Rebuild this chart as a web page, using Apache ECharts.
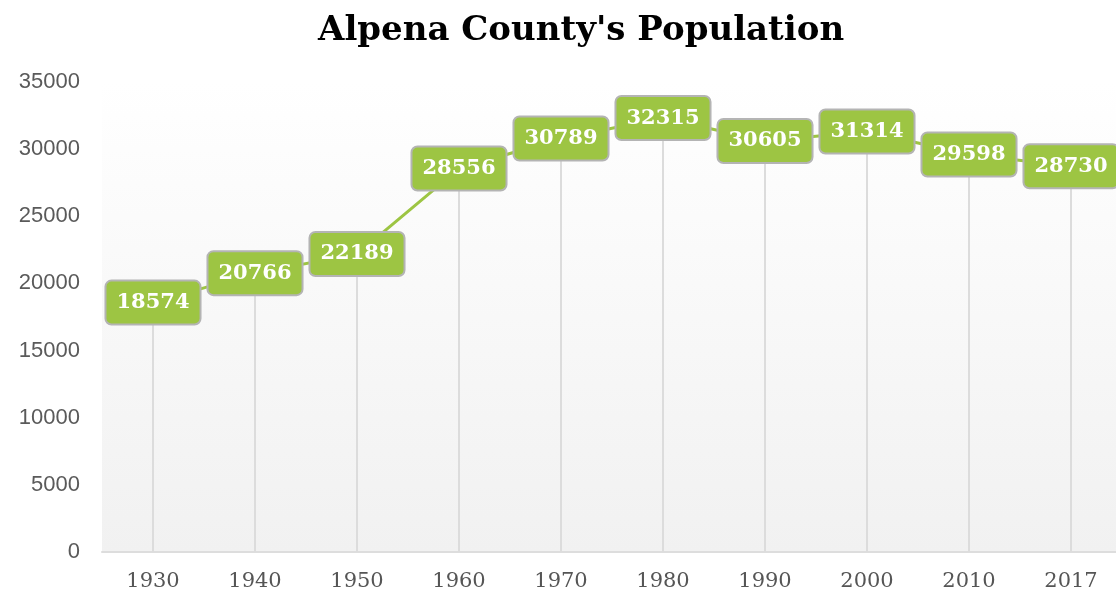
<!DOCTYPE html>
<html>
<head>
<meta charset="utf-8">
<title>Alpena County's Population</title>
<script src="https://cdn.jsdelivr.net/npm/echarts@6/dist/echarts.min.js"></script>
<style>
  html, body { margin: 0; padding: 0; background: #fff; overflow: hidden; }
  #chart { width: 1122px; height: 593px; }
</style>
</head>
<body>
<div id="chart"></div>
<script>
// 数据
const years = ['1930', '1940', '1950', '1960', '1970', '1980', '1990', '2000', '2010', '2017']
const population = [18574, 20766, 22189, 28556, 30789, 32315, 30605, 31314, 29598, 28730]

const myChart = echarts.init(document.getElementById('chart'))
const option = {
  title: {
    text: "Alpena County's Population",
    left: 313,
    top: 9,
    textStyle: {
      fontFamily: 'DejaVu Serif',
      fontWeight: 'bold',
      fontSize: 34,
      color: '#000'
    }
  },
  grid: {
    left: 102,
    top: 82,
    bottom: 41,
    right: 0, // 容器比窗口宽 6px，右边被裁掉
    show: true,
    borderWidth: 0,
    backgroundColor: new echarts.graphic.LinearGradient(0, 0, 0, 1, [
      { offset: 0, color: '#ffffff' },
      { offset: 1, color: '#f1f1f1' }
    ])
  },
  xAxis: {
    type: 'category',
    data: years,
    boundaryGap: true,
    axisLine: { lineStyle: { color: '#dddddd', width: 2 } },
    axisTick: { show: false },
    axisLabel: {
      margin: 19,
      color: '#555',
      fontSize: 21,
      fontFamily: 'DejaVu Serif'
    },
    splitLine: { show: false }
  },
  yAxis: {
    type: 'value',
    min: 0,
    max: 35000,
    interval: 5000,
    axisLine: { show: false },
    axisTick: { show: false },
    splitLine: { show: false },
    axisLabel: {
      margin: 22,
      color: '#5a5a5a',
      fontSize: 22,
      fontFamily: 'Liberation Sans',
      formatter: function (value) {
        return String(value) // 不要千位分隔符
      }
    }
  },
  series: [
    {
      // 垂直线
      type: 'bar',
      data: population,
      barWidth: 2,
      silent: true,
      itemStyle: { color: '#dcdcdc' },
      z: 1
    },
    {
      type: 'line',
      data: population,
      symbol: 'circle',
      symbolSize: 2,
      itemStyle: { color: '#9dc543' },
      lineStyle: { color: '#9dc543', width: 3 },
      z: 3,
      label: {
        show: true,
        position: 'inside',
        color: '#fff',
        fontFamily: 'DejaVu Serif',
        fontWeight: 'bold',
        fontSize: 21,
        backgroundColor: '#9dc543',
        borderColor: '#b4b4b4',
        borderWidth: 2,
        borderRadius: 5,
        padding: [11, 10, 10, 10]
      }
    }
  ]
}
myChart.setOption(option)
</script>
</body>
</html>
